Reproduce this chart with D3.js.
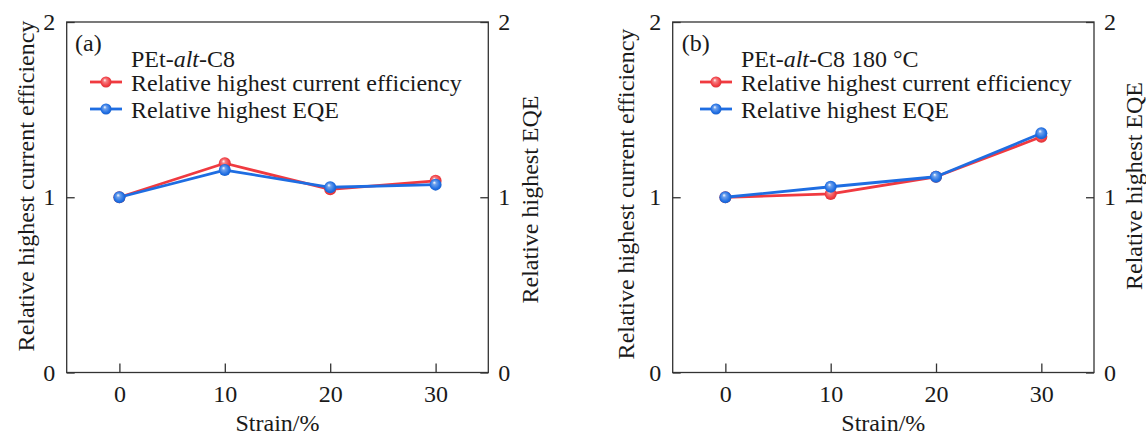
<!DOCTYPE html>
<html>
<head>
<meta charset="utf-8">
<script src="https://cdn.jsdelivr.net/npm/d3@7"></script>
<style>
  html, body { margin: 0; padding: 0; background: #fff; }
  svg { display: block; }
  text { font-family: "Liberation Serif", "Times New Roman", serif; fill: #1a1a1a; }
</style>
</head>
<body>
<svg id="chart" width="1146" height="437"></svg>
<script>
// ---- data ----
const strain = [0, 10, 20, 30];
const xTicks = [0, 10, 20, 30];
const yTicks = [0, 1, 2];
const ceA  = [1.00, 1.194, 1.045, 1.094];
const eqeA = [1.00, 1.155, 1.057, 1.072];
const ceB  = [1.00, 1.019, 1.117, 1.345];
const eqeB = [1.00, 1.060, 1.117, 1.365];
const panelTags = ["(a)", "(b)"];
const seriesNames = ["Relative highest current efficiency", "Relative highest EQE"];
const xLabel = "Strain/%";
const yLeftLabel = "Relative highest current efficiency";
const yRightLabel = "Relative highest EQE";

const RED = "#f03a40", BLUE = "#1e6de2";

const panels = [
  { tag: panelTags[0], title: ["PEt-", "alt", "-C8"], ce: ceA, eqe: eqeA,
    left: 66.7, right: 488.3, legX: 23.3, legW: 32, txtX: 64.3, tagX: 8.3,
    yl: { dx: 39.7, cy: 186 }, yr: { dx: 42.7, cy: 199.5 } },
  { tag: panelTags[1], title: ["PEt-", "alt", "-C8 180 °C"], ce: ceB, eqe: eqeB,
    left: 672.7, right: 1094, legX: 27.3, legW: 32, txtX: 68.3, tagX: 9,
    yl: { dx: 45.7, cy: 194 }, yr: { dx: 41, cy: 186 } }
];
const plotTop = 22, plotBottom = 372.5;
const FS = 24;

const svg = d3.select("#chart");
const defs = svg.append("defs");
function grad(id, c) {
  const g = defs.append("radialGradient").attr("id", id)
    .attr("cx", "50%").attr("cy", "50%").attr("r", "60%")
    .attr("fx", "38%").attr("fy", "32%");
  g.append("stop").attr("offset", "0%").attr("stop-color", "#ffffff");
  g.append("stop").attr("offset", "25%").attr("stop-color", d3.interpolateRgb("#ffffff", c)(0.65));
  g.append("stop").attr("offset", "70%").attr("stop-color", c);
  g.append("stop").attr("offset", "100%").attr("stop-color", d3.color(c).darker(0.5));
}
grad("gRed", RED);
grad("gBlue", BLUE);

panels.forEach(p => {
  const x = d3.scaleLinear().domain([-5, 35]).range([p.left, p.right]);
  const y = d3.scaleLinear().domain([0, 2]).range([plotBottom, plotTop]);
  const g = svg.append("g");

  // frame
  g.append("rect").attr("x", p.left).attr("y", plotTop)
    .attr("width", p.right - p.left).attr("height", plotBottom - plotTop)
    .attr("fill", "none").attr("stroke", "#333").attr("stroke-width", 1.3);

  // axes
  const styleAxis = sel => {
    sel.select(".domain").remove();
    sel.selectAll(".tick line").attr("stroke", "#333").attr("stroke-width", 1.3);
    sel.selectAll(".tick text").style("font-size", FS + "px")
      .style("font-family", '"Liberation Serif", serif').attr("fill", "#1a1a1a");
  };
  const xa = g.append("g").attr("transform", `translate(0,${plotBottom})`)
    .call(d3.axisBottom(x).tickValues(xTicks).tickSize(-9).tickPadding(29.5).tickFormat(d3.format("d")));
  styleAxis(xa);
  xa.selectAll(".tick text").attr("dy", "0");

  const yl = g.append("g").attr("transform", `translate(${p.left},0)`)
    .call(d3.axisLeft(y).tickValues(yTicks).tickSize(-8).tickPadding(11.5).tickFormat(d3.format("d")));
  styleAxis(yl);
  const yr = g.append("g").attr("transform", `translate(${p.right},0)`)
    .call(d3.axisRight(y).tickValues(yTicks).tickSize(-8).tickPadding(10).tickFormat(d3.format("d")));
  styleAxis(yr);

  // axis labels
  g.append("text").attr("x", (p.left + p.right) / 2).attr("y", 430.5)
    .attr("text-anchor", "middle").style("font-size", FS + "px").text(xLabel);
  g.append("text").attr("transform", `translate(${p.left - p.yl.dx},${p.yl.cy}) rotate(-90)`)
    .attr("text-anchor", "middle").attr("dy", "0.3em").style("font-size", FS + "px").text(yLeftLabel);
  g.append("text").attr("transform", `translate(${p.right + p.yr.dx},${p.yr.cy}) rotate(-90)`)
    .attr("text-anchor", "middle").attr("dy", "0.3em").style("font-size", FS + "px").text(yRightLabel);

  // series
  const line = d3.line().x((d, i) => x(strain[i])).y(d => y(d));
  const series = [{ v: p.ce, c: RED, gid: "gRed" }, { v: p.eqe, c: BLUE, gid: "gBlue" }];
  series.forEach(s => {
    g.append("path").datum(s.v).attr("d", line).attr("fill", "none")
      .attr("stroke", s.c).attr("stroke-width", 2.8).attr("stroke-linejoin", "round");
    g.selectAll(null).data(s.v).enter().append("circle")
      .attr("cx", (d, i) => x(strain[i])).attr("cy", d => y(d)).attr("r", 6)
      .attr("fill", `url(#${s.gid})`);
  });

  // tag + legend
  g.append("text").attr("x", p.left + p.tagX).attr("y", 51).style("font-size", FS + "px").text(p.tag);
  const t = g.append("text").attr("x", p.left + p.txtX).attr("y", 67).style("font-size", FS + "px");
  t.append("tspan").text(p.title[0]);
  t.append("tspan").style("font-style", "italic").text(p.title[1]);
  t.append("tspan").text(p.title[2]);
  const legY = [82, 109];
  series.forEach((s, i) => {
    const lx = p.left + p.legX;
    g.append("line").attr("x1", lx).attr("x2", lx + p.legW).attr("y1", legY[i]).attr("y2", legY[i])
      .attr("stroke", s.c).attr("stroke-width", 2.8);
    g.append("circle").attr("cx", lx + p.legW / 2).attr("cy", legY[i]).attr("r", 5.5)
      .attr("fill", `url(#${s.gid})`);
    g.append("text").attr("x", p.left + p.txtX).attr("y", legY[i] + 8.5)
      .style("font-size", FS + "px").text(seriesNames[i]);
  });
});
</script>
</body>
</html>
